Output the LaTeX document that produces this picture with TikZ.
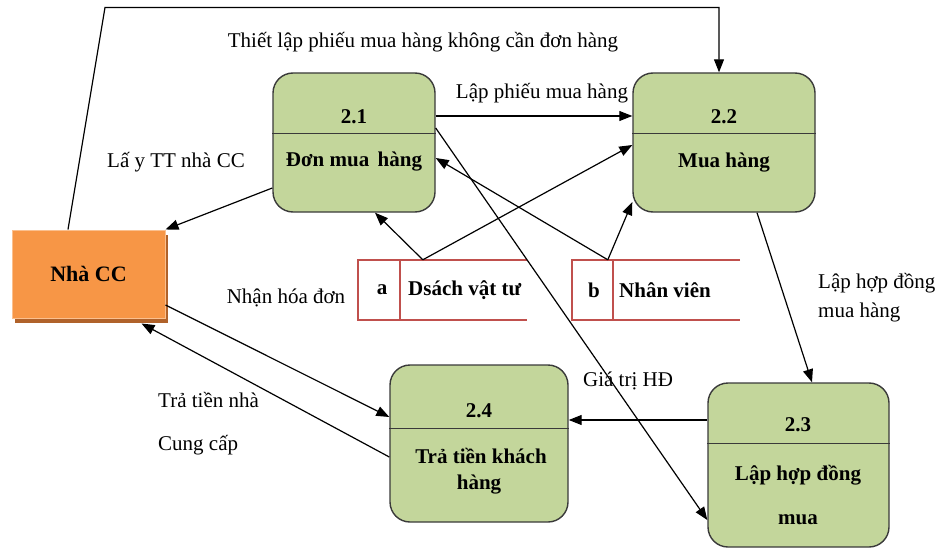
\documentclass[tikz,border=0pt]{standalone}
\usepackage{fontspec}
\setmainfont{Liberation Serif}
\usetikzlibrary{arrows.meta,shadows}
\definecolor{procfill}{HTML}{C3D69B}
\definecolor{procline}{HTML}{3A3A3A}
\definecolor{nccfill}{HTML}{F79646}
\definecolor{nccedge}{HTML}{FBC08F}
\definecolor{nccshadow}{HTML}{B0622A}
\definecolor{storered}{HTML}{C0504D}
\begin{document}
\begin{tikzpicture}[x=1pt,y=1pt,
  proc/.style={draw=procline, fill=procfill, line width=1.4pt, rounded corners=20pt, inner sep=0pt},
  divider/.style={draw=procline, line width=1.4pt},
  flow/.style={draw=black, line width=1.2pt, -{Triangle[length=13pt,width=10pt]}},
  lbl/.style={font=\fontsize{21}{25}\selectfont, inner sep=0pt},
  btxt/.style={font=\fontsize{21}{25}\selectfont\bfseries, inner sep=0pt},
  storebox/.style={draw=none, inner sep=0pt, minimum height=60pt},
  storeline/.style={draw=storered, line width=2pt},
]
\useasboundingbox (0,0) rectangle (952,-548);

% processes
\node[proc, minimum width=162pt, minimum height=139pt] (p21) at (354,-142.5) {};
\node[proc, minimum width=182pt, minimum height=139pt] (p22) at (724,-142.5) {};
\node[proc, minimum width=181pt, minimum height=164pt] (p23) at (798.5,-465) {};
\node[proc, minimum width=178pt, minimum height=157pt] (p24) at (479,-443.5) {};
\draw[divider] ([yshift=-61]p21.north west) -- ([yshift=-61]p21.north east);
\draw[divider] ([yshift=-61]p22.north west) -- ([yshift=-61]p22.north east);
\draw[divider] ([yshift=-61]p23.north west) -- ([yshift=-61]p23.north east);
\draw[divider] ([yshift=-64]p24.north west) -- ([yshift=-64]p24.north east);

\node[btxt] (n21) at (354,-117) {2.1};
\node[btxt] (d21) at (354,-162) {Đơn mua\hspace{0.4em}hàng};
\node[btxt] (n22) at (724,-117) {2.2};
\node[btxt] (d22) at (724,-163) {Mua hàng};
\node[btxt] (n23) at (798,-425) {2.3};
\node[btxt] (d23a) at (798,-475) {Lập hợp đồng};
\node[btxt] (d23b) at (798,-520) {mua};
\node[btxt] (n24) at (479,-411) {2.4};
\node[btxt] (d24a) at (481,-456) {Trả tiền khách};
\node[btxt] (d24b) at (479,-485) {hàng};

% external entity
\node[draw=nccedge, line width=1pt, fill=nccfill, minimum width=153pt, minimum height=88pt,
      inner sep=0pt, font=\fontsize{22}{26}\selectfont\bfseries,
      drop shadow={shadow xshift=3pt, shadow yshift=-5pt, fill=nccshadow, opacity=1}]
      (ncc) at (88.5,-274) {Nhà CC};

% data stores
\node[storebox, minimum width=169pt] (sa) at (442.5,-290) {};
\node[storebox, minimum width=168pt] (sb) at (656,-290) {};
\draw[storeline] (sa.north east) -| (sa.south west) -- (sa.south east);
\draw[storeline] ([xshift=42]sa.north west) -- ([xshift=42]sa.south west);
\draw[storeline] (sb.north east) -| (sb.south west) -- (sb.south east);
\draw[storeline] ([xshift=41]sb.north west) -- ([xshift=41]sb.south west);
\node[btxt] (ka) at (382,-290) {a};
\node[btxt, anchor=west] (la) at (408,-290) {Dsách vật tư};
\node[btxt] (kb) at (594,-290) {b};
\node[btxt, anchor=west] (lb) at (619,-290) {Nhân viên};

% flows
\draw[flow] ([xshift=-20.5]ncc.north) -- ++(37,222) -| ([xshift=-5]p22.north);
\draw[flow] ([yshift=26.5]p21.east) -- ([yshift=26.5]p22.west);
\draw[flow] ([yshift=-45.5]p21.west) -- (ncc.north east);
\draw[flow] ([xshift=65]sa.north west) -- ([xshift=21]p21.south);
\draw[flow] ([xshift=65]sa.north west) -- ([yshift=-2.5]p22.west);
\draw[flow] ([xshift=36]sb.north west) -- ([yshift=-15.5]p21.east);
\draw[flow] ([xshift=36]sb.north west) -- ([yshift=-59.5]p22.west);
\draw[flow] ([yshift=14.5]p21.east) -- ([yshift=-55]p23.west);
\draw[flow] ([xshift=33]p22.south) -- ([xshift=13.5]p23.north);
\draw[flow] ([yshift=45]p23.west) -- ([yshift=23.5]p24.east);
\draw[flow] ([yshift=-31]ncc.east) -- ([yshift=26.5]p24.west);
\draw[flow] ([yshift=-13.5]p24.west) -- ([xshift=130,yshift=-5]ncc.south west);

% flow labels
\node[lbl] (f1) at (423,-42) {Thiết lập phiếu mua hàng không cần đơn hàng};
\node[lbl] (f2) at (542,-93) {Lập phiếu mua hàng};
\node[lbl] (f3) at (176,-162) {Lấ y TT nhà CC};
\node[lbl] (f4) at (286,-298) {Nhận hóa đơn};
\node[lbl] (f5) at (628,-381) {Giá trị HĐ};
\node[lbl, anchor=west] (f6a) at (818,-283) {Lập hợp đồng};
\node[lbl, anchor=west] (f6b) at (818,-312) {mua hàng};
\node[lbl, anchor=west] (f7a) at (158,-400) {Trả tiền nhà};
\node[lbl, anchor=west] (f7b) at (158,-445) {Cung cấp};
\end{tikzpicture}
\end{document}
